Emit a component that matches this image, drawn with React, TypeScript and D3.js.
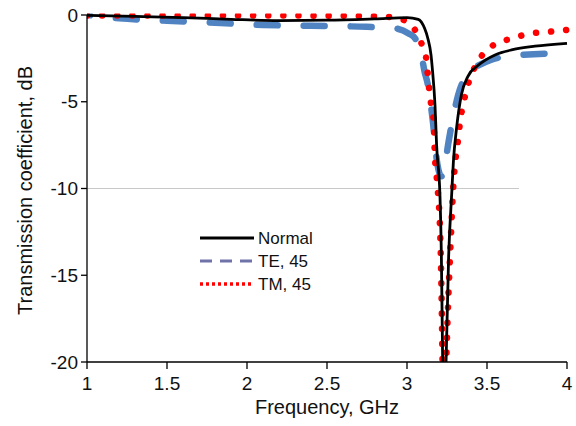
import React from 'react'
import * as d3 from 'd3'

// Normal incidence
const normalFreq = [1, 1.3, 1.6, 1.9, 2.2, 2.5, 2.8, 3.0, 3.07, 3.11, 3.13, 3.15, 3.16, 3.175, 3.185, 3.206, 3.215, 3.223, 3.234, 3.244, 3.26, 3.28, 3.29, 3.31, 3.34, 3.38, 3.445, 3.55, 3.66, 3.8, 4.0]
const normalDb = [-0.02, -0.08, -0.15, -0.25, -0.32, -0.3, -0.22, -0.15, -0.25, -0.77, -1.34, -2.3, -3.27, -5.2, -7.5, -10.4, -14, -20, -25, -20, -14, -10.2, -8.45, -6.5, -4.6, -3.55, -2.9, -2.3, -2.0, -1.8, -1.63]

// TE, 45 deg
const teFreq = [1, 1.2, 1.5, 1.8, 2.1, 2.4, 2.7, 2.925, 3.01, 3.05, 3.09, 3.11, 3.13, 3.16, 3.19, 3.215, 3.24, 3.26, 3.29, 3.32, 3.39, 3.46, 3.52, 3.71, 4.0]
const teDb = [0, -0.19, -0.33, -0.44, -0.58, -0.62, -0.67, -0.77, -1.06, -1.34, -2.3, -3.27, -4.0, -6.0, -8.6, -9.3, -8.45, -7.3, -5.8, -4.6, -3.27, -2.85, -2.6, -2.3, -2.2]

// TM, 45 deg
const tmFreq = [1, 1.5, 2, 2.5, 2.87, 2.98, 3.05, 3.09, 3.12, 3.13, 3.14, 3.15, 3.165, 3.175, 3.19, 3.21, 3.216, 3.222, 3.232, 3.248, 3.258, 3.27, 3.29, 3.3, 3.315, 3.33, 3.37, 3.39, 3.43, 3.48, 3.56, 3.66, 3.77, 3.85, 4.0]
const tmDb = [-0.03, -0.03, -0.03, -0.04, -0.1, -0.29, -0.86, -1.63, -2.5, -3.45, -4.4, -5.1, -5.9, -8.25, -9.8, -13.4, -16.2, -20, -24, -19.1, -16.4, -13.7, -9.8, -8.6, -7.5, -6.3, -4.4, -3.75, -2.9, -2.2, -1.63, -1.35, -1.06, -1.0, -0.86]

const xTicks = [1, 1.5, 2, 2.5, 3, 3.5, 4]
const yTicks = [0, -5, -10, -15, -20]
const refLevel = -10
const refEnd = 3.7

const width = 576
const height = 426
const margin = { top: 15, right: 9, bottom: 64, left: 87 }
const font = '"Liberation Sans", Arial, sans-serif'

export default function App() {
  const x = d3.scaleLinear().domain([1, 4]).range([margin.left, width - margin.right])
  const y = d3.scaleLinear().domain([-20, 0]).range([height - margin.bottom, margin.top])

  const line = d3.line<[number, number]>()
    .x((d) => x(d[0]))
    .y((d) => y(d[1]))
    .curve(d3.curveMonotoneX)

  const zip = (f: number[], v: number[]) => f.map((d, i) => [d, v[i]] as [number, number])

  const series = [
    { key: 'te', d: line(zip(teFreq, teDb)), stroke: '#5083c2', w: 6.5, dash: '21 26', off: 18, cap: 'round' },
    { key: 'tm', d: line(zip(tmFreq, tmDb)), stroke: '#ff0000', w: 6.5, dash: '0.1 15', off: 0, cap: 'round' },
    { key: 'normal', d: line(zip(normalFreq, normalDb)), stroke: '#000', w: 2.8, dash: null, off: 0, cap: 'butt' },
  ]

  const legend = [
    { label: 'Normal', stroke: '#000', w: 3, dash: null },
    { label: 'TE, 45', stroke: '#6f73a9', w: 3, dash: '12 8' },
    { label: 'TM, 45', stroke: '#ff0000', w: 3.5, dash: '3 3' },
  ]

  const x0 = margin.left
  const yB = height - margin.bottom
  const clipTop = y(0) - 1.5

  return (
    <svg width={width} height={height} style={{ position: 'absolute', left: 0, top: 0, background: '#fff' }} fontFamily={font}>
      <defs>
        <clipPath id="plot">
          <rect x={margin.left} y={clipTop} width={width - margin.left} height={yB - clipTop} />
        </clipPath>
      </defs>

      <line x1={x(1)} x2={x(refEnd)} y1={y(refLevel)} y2={y(refLevel)} stroke="#c8c8c8" strokeWidth={1} />

      <g clipPath="url(#plot)">
        {series.map((s) => (
          <path
            key={s.key}
            d={s.d || ''}
            fill="none"
            stroke={s.stroke}
            strokeWidth={s.w}
            strokeDasharray={s.dash || undefined}
            strokeDashoffset={s.off}
            strokeLinecap={s.cap as any}
            strokeLinejoin="round"
          />
        ))}
      </g>

      {/* axes */}
      <line x1={x0} x2={x0} y1={y(0)} y2={yB} stroke="#000" strokeWidth={1.3} />
      <line x1={x0} x2={x(4)} y1={yB} y2={yB} stroke="#000" strokeWidth={1.3} />
      {yTicks.map((t) => (
        <g key={t}>
          <line x1={x0 - 6} x2={x0} y1={y(t)} y2={y(t)} stroke="#000" strokeWidth={1.3} />
          <text x={x0 - 9} y={y(t)} dy="0.35em" textAnchor="end" fontSize={19} fill="#111">{t}</text>
        </g>
      ))}
      {xTicks.map((t) => (
        <g key={t}>
          <line x1={x(t)} x2={x(t)} y1={yB} y2={yB + 7} stroke="#000" strokeWidth={1.3} />
          <text x={x(t)} y={yB + 28} textAnchor="middle" fontSize={19} fill="#111">{t}</text>
        </g>
      ))}

      <text x={(x(1) + x(4)) / 2} y={414} textAnchor="middle" fontSize={20} fill="#111">Frequency, GHz</text>
      <text transform={`translate(32,${(y(0) + yB) / 2 + 2}) rotate(-90)`} textAnchor="middle" fontSize={20} fill="#111">
        Transmission coefficient, dB
      </text>

      {/* legend */}
      {legend.map((l, i) => (
        <g key={l.label} transform={`translate(200,${238 + i * 23})`}>
          <line x1={0} x2={54} y1={0} y2={0} stroke={l.stroke} strokeWidth={l.w} strokeDasharray={l.dash || undefined} />
          <text x={58} y={0} dy="0.35em" fontSize={17} fill="#111">{l.label}</text>
        </g>
      ))}
    </svg>
  )
}
